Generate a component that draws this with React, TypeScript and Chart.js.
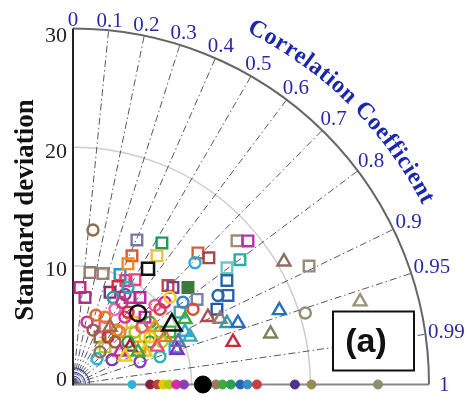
import { useEffect, useRef } from "react";
import { Chart, registerables } from "chart.js";

Chart.register(...registerables);

// Standard deviation axis
const STD_MAX = 30;
const stdTicks = [0, 10, 20, 30];
const stdArcs = [10, 20];
const originArcs = [0.35, 0.7, 1.05, 1.4];

// Correlation coefficient axis
const corrTicks = [0, 0.1, 0.2, 0.3, 0.4, 0.5, 0.6, 0.7, 0.8, 0.9, 0.95, 0.99, 1];
const corrTickLabels = ["0", "0.1", "0.2", "0.3", "0.4", "0.5", "0.6", "0.7", "0.8", "0.9", "0.95", "0.99", "1"];

// Open squares
const squareStd = [13.43, 14.19, 12.03, 13.04, 9.63, 9.77, 8.28, 7.48, 8.44, 11.62, 10.16, 11.27, 9.91, 15.37, 15.73, 18.45, 19.15, 17.63, 16.34, 15.7, 15.1, 13.72, 12.73, 22.3, 6.49, 4.64, 8.83, 4.19, 11.8, 12.72, 10.34, 9.16, 10.92, 9.31, 7.27, 9.31, 8.35, 5.58, 9.17];
const squareCorr = [0.401, 0.528, 0.413, 0.543, 0.149, 0.259, 0.071, 0.135, 0.37, 0.689, 0.39, 0.411, 0.45, 0.685, 0.728, 0.749, 0.77, 0.798, 0.794, 0.826, 0.865, 0.884, 0.761, 0.892, 0.87, 0.49, 0.544, 0.644, 0.714, 0.822, 0.505, 0.414, 0.826, 0.606, 0.684, 0.877, 0.727, 0.483, 0.937];
const squareColor = ["#7878a8", "#1f9a5a", "#d85a3c", "#e8c23a", "#96786a", "#9a8276", "#c8287a", "#a8328a", "#80307a", "#c04848", "#2a96be", "#f08c1e", "#e63c78", "#c8643c", "#a84646", "#a08c70", "#b432b4", "#28aaaa", "#6ec8be", "#2864aa", "#2864aa", "#1e5aa8", "#3c7a3c", "#968c78", "#f09614", "#96643c", "#c83296", "#b4c828", "#783ca0", "#7882aa", "#e64682", "#dc283c", "#3caaaa", "#b428a0", "#f0be1e", "#3cb43c", "#c828a0", "#e65a8c", "#28aadc"];

// Open circles
const circleStd = [13.25, 14.6, 14.38, 11.97, 2.98, 3.91, 5.44, 4.93, 5.01, 5.94, 9.65, 8.38, 10.44, 8.83, 8.14, 20.5, 7.3, 6.87, 8.58, 7.21, 6.33, 7.31, 9.47, 7.43, 3.59, 9.73, 8.12, 11.61, 11.03, 5.88, 6.21, 5.97, 7.59, 7.64, 8.33, 7.7, 5.06, 5.97, 7.7];
const circleCorr = [0.127, 0.704, 0.85, 0.845, 0.678, 0.841, 0.217, 0.343, 0.589, 0.625, 0.716, 0.774, 0.742, 0.496, 0.414, 0.955, 0.832, 0.76, 0.854, 0.607, 0.426, 0.484, 0.489, 0.873, 0.634, 0.753, 0.509, 0.798, 0.741, 0.788, 0.312, 0.663, 0.765, 0.849, 0.9, 0.602, 0.699, 0.946, 0.952];
const circleColor = ["#8c6e50", "#28aadc", "#2864aa", "#dc5032", "#28b4dc", "#783cb4", "#c83296", "#a05a50", "#c8323c", "#e68228", "#f05a96", "#3caa3c", "#d22896", "#8c3c8c", "#28a0aa", "#968c6e", "#e6c800", "#aac81e", "#32aa50", "#dc28aa", "#f07828", "#f064a0", "#28aac8", "#3ca03c", "#a06e46", "#dc3c3c", "#d2328c", "#3c82c8", "#f0d228", "#28a03c", "#e66428", "#f08228", "#f0508c", "#f0c814", "#b4d228", "#dc3232", "#a0643c", "#8c3cb4", "#28b4b4"];

// Open triangles
const triangleStd = [9.24, 5.77, 7.77, 10.66, 12.73, 13.59, 13.98, 14.85, 13.96, 18.5, 17.2, 25.2, 20.62, 10.95, 6.68, 8.74, 10.44, 9.56, 4.84, 5.8, 6.14, 8.46, 4.98];
const triangleCorr = [0.948, 0.832, 0.911, 0.925, 0.893, 0.912, 0.928, 0.936, 0.966, 0.94, 0.968, 0.96, 0.862, 0.862, 0.909, 0.887, 0.904, 0.926, 0.818, 0.538, 0.892, 0.816, 0.88];
const triangleColor = ["#8c28be", "#a01e32", "#f04682", "#3caaaa", "#aa5050", "#a07870", "#28a0b4", "#286ebe", "#c8283c", "#286ebe", "#82825a", "#969678", "#8c6e64", "#3caa3c", "#e6c814", "#e67828", "#28aad2", "#646eaa", "#c82890", "#a06e46", "#3caa3c", "#f0961e", "#e6d214"];

// Ensemble means (black)
const meanStd = [11.71, 8.18, 9.75];
const meanCorr = [0.54, 0.67, 0.855];
const meanStyle = ["rect", "circle", "triangle"];
const meanRadius = [8.5, 8, 11];

// Observed references on the correlation = 1 axis
const refStd = [4.97, 6.5, 7.1, 7.6, 8.1, 8.7, 9.35, 12.05, 12.6, 13.3, 14.1, 14.7, 15.5, 18.7, 20.1, 25.7];
const refColor = ["#28b4dc", "#8c1e3c", "#b4463c", "#e6c800", "#aac81e", "#dc28aa", "#8c3cb4", "#a0785a", "#3caa3c", "#28a050", "#2864b4", "#3c8cc8", "#c83c46", "#50328c", "#968c50", "#8c8c6e"];
const mainRefStd = 10.95;

const SERIF = '"Liberation Serif", "Times New Roman", Times, serif';
const SANS = '"Liberation Sans", Arial, Helvetica, sans-serif';
const LABEL_BLUE = "#2a2aa6";
const TITLE_BLUE = "#1a28b0";

function toXY(std: number, corr: number) {
  return { x: std * corr, y: std * Math.sqrt(Math.max(0, 1 - corr * corr)) };
}

function points(stds: number[], corrs: number[]) {
  return stds.map((s, i) => toXY(s, corrs[i]));
}

const taylorGrid = {
  id: "taylorGrid",
  beforeDatasetsDraw(chart: any) {
    const { ctx, scales } = chart;
    const ox = scales.x.getPixelForValue(0);
    const oy = scales.y.getPixelForValue(0);
    const unit = scales.x.getPixelForValue(1) - ox;
    const R = STD_MAX * unit;
    ctx.save();

    // standard deviation arcs
    ctx.strokeStyle = "#cdcdcd";
    ctx.lineWidth = 1.5;
    for (const s of stdArcs) {
      ctx.beginPath();
      ctx.arc(ox, oy, s * unit, -Math.PI / 2, 0);
      ctx.stroke();
    }
    ctx.strokeStyle = "#4a4aa8";
    ctx.lineWidth = 1.2;
    for (const s of originArcs) {
      ctx.beginPath();
      ctx.arc(ox, oy, s * unit, -Math.PI / 2, 0);
      ctx.stroke();
    }

    // correlation rays
    ctx.strokeStyle = "#55556a";
    ctx.lineWidth = 1;
    ctx.setLineDash([7, 3, 1.5, 3]);
    for (const c of corrTicks) {
      if (c <= 0 || c >= 1) continue;
      const a = Math.acos(c);
      ctx.beginPath();
      ctx.moveTo(ox, oy);
      ctx.lineTo(ox + R * Math.cos(a), oy - R * Math.sin(a));
      ctx.stroke();
    }
    ctx.setLineDash([]);

    // outer arc
    ctx.strokeStyle = "#666666";
    ctx.lineWidth = 2;
    ctx.beginPath();
    ctx.arc(ox, oy, R, -Math.PI / 2, 0);
    ctx.stroke();

    // bottom axis
    ctx.strokeStyle = "#888888";
    ctx.beginPath();
    ctx.moveTo(ox, oy);
    ctx.lineTo(ox + R, oy);
    ctx.stroke();

    // left axis
    ctx.strokeStyle = "#222222";
    ctx.beginPath();
    ctx.moveTo(ox, oy + 1);
    ctx.lineTo(ox, oy - R);
    ctx.stroke();
    ctx.restore();
  },
  afterDatasetsDraw(chart: any) {
    const { ctx, chartArea } = chart;
    // panel tag
    const bx = chartArea.right - 96;
    const by = chartArea.bottom - 73;
    ctx.save();
    ctx.fillStyle = "#ffffff";
    ctx.fillRect(bx, by, 81, 59);
    ctx.strokeStyle = "#111111";
    ctx.lineWidth = 2;
    ctx.strokeRect(bx, by, 81, 59);
    ctx.fillStyle = "#111111";
    ctx.font = `bold 34px ${SANS}`;
    ctx.textAlign = "center";
    ctx.textBaseline = "middle";
    ctx.fillText("(a)", bx + 33, by + 31);
    ctx.restore();
  },
  afterDraw(chart: any) {
    const { ctx, scales } = chart;
    const ox = scales.x.getPixelForValue(0);
    const oy = scales.y.getPixelForValue(0);
    const unit = scales.x.getPixelForValue(1) - ox;
    const R = STD_MAX * unit;
    ctx.save();

    // standard deviation ticks
    ctx.fillStyle = "#222222";
    ctx.font = `22px ${SERIF}`;
    ctx.textAlign = "right";
    ctx.textBaseline = "middle";
    for (const t of stdTicks) {
      const py = scales.y.getPixelForValue(t);
      const dy = t === 0 ? -4 : t === STD_MAX ? 4 : 3;
      ctx.fillText(String(t), ox - 6, py + dy);
    }

    // correlation ticks
    ctx.fillStyle = LABEL_BLUE;
    ctx.font = `21px ${SERIF}`;
    ctx.textAlign = "center";
    corrTicks.forEach((c, i) => {
      const label = corrTickLabels[i];
      const a = Math.acos(c);
      const w = ctx.measureText(label).width;
      const h = 14;
      const gap = c === 1 ? 10 : 2;
      const d = Math.abs(Math.cos(a)) * w / 2 + Math.abs(Math.sin(a)) * h / 2 + gap;
      const px = ox + (R + d) * Math.cos(a);
      const py = oy - (R + d) * Math.sin(a);
      ctx.fillText(label, px, py + 1);
    });

    // curved axis title
    ctx.fillStyle = TITLE_BLUE;
    ctx.font = `bold 24px ${SERIF}`;
    ctx.textAlign = "center";
    ctx.textBaseline = "alphabetic";
    const title = "Correlation Coefficient";
    const rT = R + 37;
    const spacing = 0.6;
    const widths = Array.from(title).map((ch) => ctx.measureText(ch).width + spacing);
    const total = widths.reduce((s, v) => s + v, 0);
    let ang = (45.5 * Math.PI) / 180 + total / 2 / rT;
    Array.from(title).forEach((ch, i) => {
      const half = widths[i] / 2 / rT;
      ang -= half;
      ctx.save();
      ctx.translate(ox + rT * Math.cos(ang), oy - rT * Math.sin(ang));
      ctx.rotate(Math.PI / 2 - ang);
      ctx.fillText(ch, 0, 0);
      ctx.restore();
      ang -= half;
    });

    // left axis title
    ctx.fillStyle = "#111111";
    ctx.font = `bold 27px ${SERIF}`;
    ctx.textAlign = "center";
    ctx.textBaseline = "alphabetic";
    ctx.translate(33, 210);
    ctx.rotate(-Math.PI / 2);
    ctx.fillText("Standard deviation", 0, 0);
    ctx.restore();
  },
};

export default function App() {
  const ref = useRef<HTMLCanvasElement>(null);

  useEffect(() => {
    const canvas = ref.current;
    if (!canvas) return;
    const clear = "rgba(0,0,0,0)";
    const chart = new Chart(canvas, {
      type: "scatter",
      data: {
        datasets: [
          {
            label: "reference",
            data: [{ x: mainRefStd, y: 0 }],
            pointStyle: "circle",
            pointRadius: 8.5,
            pointBackgroundColor: "#000000",
            pointBorderColor: "#000000",
            pointBorderWidth: 1,
            clip: false,
          },
          {
            label: "observations",
            data: refStd.map((s) => ({ x: s, y: 0 })),
            pointStyle: "circle",
            pointRadius: refStd.map((_, i) => (i === 0 ? 4 : 4.5)),
            pointBackgroundColor: refColor,
            pointBorderColor: refColor,
            pointBorderWidth: 1,
            clip: false,
          },
          {
            label: "ensemble mean",
            data: points(meanStd, meanCorr),
            pointStyle: meanStyle as any,
            pointRadius: meanRadius,
            pointBackgroundColor: clear,
            pointBorderColor: "#111111",
            pointBorderWidth: 2.5,
            clip: false,
          },
          {
            label: "triangles",
            data: points(triangleStd, triangleCorr),
            pointStyle: "triangle",
            pointRadius: 7.5,
            pointBackgroundColor: clear,
            pointBorderColor: triangleColor,
            pointBorderWidth: 2.4,
            clip: false,
          },
          {
            label: "circles",
            data: points(circleStd, circleCorr),
            pointStyle: "circle",
            pointRadius: 5.5,
            pointBackgroundColor: clear,
            pointBorderColor: circleColor,
            pointBorderWidth: 2.4,
            clip: false,
          },
          {
            label: "squares",
            data: points(squareStd, squareCorr),
            pointStyle: "rect",
            pointRadius: 7.5,
            pointBackgroundColor: squareColor.map((c, i) => (i === 22 ? c : clear)),
            pointBorderColor: squareColor,
            pointBorderWidth: 2.4,
            clip: false,
          },
        ],
      },
      options: {
        animation: false,
        responsive: false,
        events: [],
        layout: { padding: { left: 73, top: 32, right: 36, bottom: 10 } },
        plugins: { legend: { display: false }, tooltip: { enabled: false } },
        scales: {
          x: { type: "linear", min: 0, max: STD_MAX, display: false },
          y: { type: "linear", min: 0, max: STD_MAX, display: false },
        },
      },
      plugins: [taylorGrid],
    });

    // redraw once the system fonts used on the canvas are ready
    let alive = true;
    const fonts = (document as any).fonts;
    if (fonts && fonts.load) {
      Promise.all([
        fonts.load(`22px ${SERIF}`),
        fonts.load(`bold 24px ${SERIF}`),
        fonts.load(`bold 34px ${SANS}`),
      ])
        .catch(() => undefined)
        .then(() => {
          if (alive) chart.draw();
        });
    }
    return () => {
      alive = false;
      chart.destroy();
    };
  }, []);

  return (
    <div style={{ position: "absolute", left: 0, top: 0, width: 465, height: 398, background: "#ffffff" }}>
      <canvas ref={ref} width={465} height={398} style={{ display: "block" }} />
    </div>
  );
}
